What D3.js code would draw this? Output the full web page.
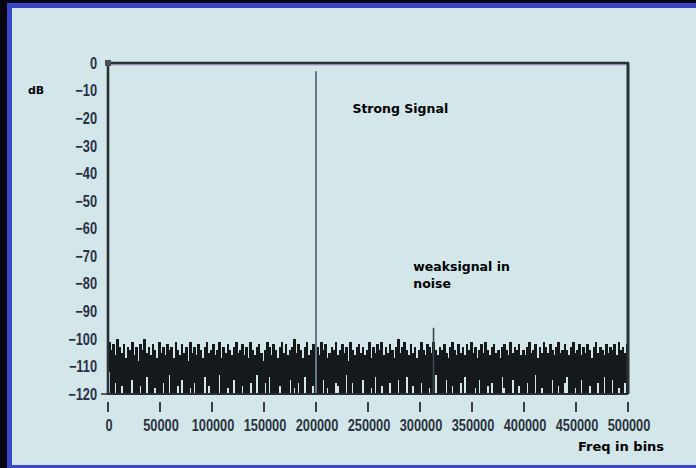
<!DOCTYPE html>
<html><head><meta charset="utf-8">
<script src="https://cdn.jsdelivr.net/npm/d3@7"></script>
<style>html,body{margin:0;padding:0;background:#070714;}svg{display:block;}</style>
</head><body>
<svg id="c" width="696" height="468"></svg>
<script>
// ---- data ----
const xTicks = [0,50000,100000,150000,200000,250000,300000,350000,400000,450000,500000];
const yTicks = [0,-10,-20,-30,-40,-50,-60,-70,-80,-90,-100,-110,-120];
const binHz = 2000;
const noisePeak = [
-101,-104,-102,-106,-100,-103,-105,-102,-107,-103,
-104,-101,-106,-103,-108,-102,-104,-100,-105,-103,
-106,-102,-104,-107,-101,-105,-103,-106,-102,-104,
-103,-107,-101,-104,-106,-102,-105,-103,-108,-101,
-105,-103,-106,-102,-104,-107,-103,-101,-105,-104,
-102,-106,-104,-101,-107,-103,-105,-102,-104,-106,
-103,-101,-105,-104,-102,-106,-103,-107,-101,-104,
-106,-103,-102,-105,-108,-104,-101,-103,-106,-102,
-104,-107,-103,-101,-105,-102,-106,-104,-103,-100,
-105,-102,-104,-107,-103,-101,-106,-104,-102,-105,
-103,-106,-101,-104,-102,-107,-105,-103,-104,-101,
-106,-104,-102,-105,-103,-108,-101,-104,-106,-103,
-102,-105,-103,-106,-104,-101,-107,-103,-105,-102,
-104,-101,-106,-103,-105,-102,-104,-107,-103,-100,
-105,-103,-101,-104,-106,-102,-105,-103,-107,-104,
-101,-104,-106,-102,-103,-105,-101,-104,-106,-103,
-104,-102,-105,-107,-103,-101,-104,-106,-102,-105,
-103,-106,-102,-104,-101,-105,-103,-107,-104,-102,
-105,-101,-104,-106,-103,-102,-105,-104,-107,-103,
-102,-104,-106,-101,-105,-103,-104,-102,-106,-104,
-106,-103,-101,-105,-104,-102,-107,-103,-105,-101,
-103,-105,-102,-104,-106,-103,-101,-105,-104,-102,
-104,-106,-103,-101,-105,-104,-102,-106,-103,-105,
-102,-104,-107,-103,-101,-105,-103,-104,-106,-102,
-105,-103,-104,-102,-106,-101,-104,-103,-105,-102];
const noiseTrough = [
-112,-120,-120,-116,-120,-120,-117,-120,-120,-120,
-120,-115,-120,-120,-120,-117,-120,-120,-114,-120,
-120,-120,-118,-120,-120,-120,-116,-120,-120,-113,
-120,-120,-120,-117,-120,-115,-120,-120,-120,-118,
-120,-116,-120,-120,-120,-120,-114,-120,-117,-120,
-120,-120,-120,-113,-120,-120,-120,-118,-120,-120,
-115,-120,-120,-120,-117,-120,-120,-120,-116,-120,
-120,-113,-120,-120,-120,-116,-120,-114,-120,-120,
-120,-120,-117,-120,-120,-120,-120,-115,-120,-118,
-120,-116,-120,-120,-114,-120,-120,-120,-117,-120,
-120,-120,-120,-115,-120,-118,-120,-120,-120,-116,
-117,-120,-120,-120,-113,-120,-120,-116,-120,-120,
-120,-120,-115,-120,-120,-120,-118,-120,-114,-120,
-120,-117,-120,-120,-120,-116,-120,-120,-120,-115,
-120,-120,-120,-114,-120,-120,-117,-120,-120,-120,
-116,-120,-120,-120,-118,-120,-120,-113,-120,-120,
-120,-120,-115,-120,-120,-117,-120,-120,-120,-116,
-120,-114,-120,-120,-120,-120,-118,-120,-115,-120,
-120,-120,-117,-120,-116,-120,-120,-120,-120,-114,
-118,-120,-120,-120,-115,-120,-120,-117,-120,-120,
-120,-116,-120,-120,-120,-113,-120,-120,-118,-120,
-120,-120,-120,-115,-120,-120,-117,-120,-120,-116,
-114,-120,-120,-120,-118,-120,-120,-115,-120,-120,
-120,-117,-120,-120,-120,-116,-120,-120,-114,-120,
-120,-120,-115,-120,-120,-118,-120,-120,-116,-120];
const signals = [
  {name:"strong", freq:200000, db:-3},
  {name:"weak", freq:313000, db:-96}
];
const annotations = [
  {lines:["Strong Signal"], freq:235000, db:-18},
  {lines:["weaksignal in","noise"], freq:293500, db:-75.5}
];

// ---- drawing ----
const svg = d3.select("#c");
const W = 696, H = 468;
svg.append("rect").attr("x",0).attr("y",0).attr("width",W).attr("height",H).attr("fill","#070714");
svg.append("rect").attr("x",7).attr("y",3).attr("width",W-7).attr("height",H-3).attr("fill","#3b46c6");
svg.append("rect").attr("x",12).attr("y",8).attr("width",W-12).attr("height",457).attr("fill","#d3e6ea");

const x = d3.scaleLinear().domain([0,500000]).range([108,628]);
const y = d3.scaleLinear().domain([-120,0]).range([394,63]);
const numFont = "'Liberation Sans',Arial,sans-serif";
const fmtY = d => d===0 ? "0" : "\u2212" + Math.abs(d);
const sx = 0.8;

// noise
const bw = x(binHz) - x(0);
svg.append("g").attr("shape-rendering","crispEdges")
  .selectAll("rect").data(noisePeak).join("rect")
  .attr("x",(d,i)=>x(i*binHz)).attr("width",bw+0.6)
  .attr("y",d=>y(d)).attr("height",(d,i)=>y(noiseTrough[i])-y(d))
  .attr("fill","#15191b");

// signals
svg.selectAll("line.s").data(signals).join("line")
  .attr("x1",d=>x(d.freq)).attr("x2",d=>x(d.freq))
  .attr("y1",y(-120)).attr("y2",d=>y(d.db))
  .attr("stroke",d=>d.name==="strong"?"#67788a":"#3a4650")
  .attr("stroke-width",d=>d.name==="strong"?2:1.6);

// frame
const axisCol = "#2b3036";
svg.append("line").attr("x1",x(0)).attr("x2",x(500000)+1).attr("y1",y(0)+1.8).attr("y2",y(0)+1.8)
  .attr("stroke","#b9a6d2").attr("stroke-width",1.5);
svg.append("line").attr("x1",x(0)).attr("x2",x(500000)+1).attr("y1",y(0)).attr("y2",y(0))
  .attr("stroke",axisCol).attr("stroke-width",2.6);
svg.append("line").attr("x1",x(500000)).attr("x2",x(500000)).attr("y1",y(0)).attr("y2",y(-120))
  .attr("stroke",axisCol).attr("stroke-width",3);
svg.append("line").attr("x1",x(0)).attr("x2",x(500000)).attr("y1",y(-120)).attr("y2",y(-120))
  .attr("stroke",axisCol).attr("stroke-width",2);
svg.append("line").attr("x1",x(0)).attr("x2",x(0)).attr("y1",y(0)-2).attr("y2",y(-120)+1)
  .attr("stroke",axisCol).attr("stroke-width",2.6);
svg.append("rect").attr("x",x(0)-3).attr("y",y(0)-3).attr("width",6).attr("height",6).attr("fill","#4a5058");
svg.append("line").attr("x1",x(0)-7).attr("x2",x(0)).attr("y1",y(-120)).attr("y2",y(-120))
  .attr("stroke",axisCol).attr("stroke-width",1.5);

// y tick labels (condensed bold)
svg.selectAll("text.yt").data(yTicks).join("text")
  .attr("transform",d=>`translate(97,${y(d)}) scale(${sx},1)`)
  .attr("dy","0.36em").attr("text-anchor","end")
  .style("font-family",numFont).style("font-weight","bold").style("font-size","16px")
  .attr("fill","#2a3146").text(fmtY);

// x ticks
svg.selectAll("line.xt").data(xTicks).join("line")
  .attr("x1",d=>x(d)).attr("x2",d=>x(d)).attr("y1",402).attr("y2",412)
  .attr("stroke","#3a4048").attr("stroke-width",2);
svg.selectAll("text.xt").data(xTicks).join("text")
  .attr("transform",d=>`translate(${x(d)+1},431) scale(${sx},1)`)
  .attr("text-anchor","middle")
  .style("font-family",numFont).style("font-weight","bold").style("font-size","16px")
  .attr("fill","#2c3440").text(d=>String(d));

// axis titles
const lblFont = "'DejaVu Sans',sans-serif";
svg.append("text").attr("x",28).attr("y",94).style("font-family",lblFont).style("font-weight","bold")
  .style("font-size","11px").attr("fill","#000").text("dB");
svg.append("text").attr("x",578).attr("y",451).style("font-family",lblFont).style("font-weight","bold")
  .style("font-size","13px").attr("fill","#000").text("Freq in bins");

// annotations
annotations.forEach(a=>{
  const t = svg.append("text").attr("x",x(a.freq)).attr("y",y(a.db))
    .style("font-family",lblFont).style("font-weight","bold").style("font-size","12.5px").attr("fill","#000");
  a.lines.forEach((l,i)=>t.append("tspan").attr("x",x(a.freq)).attr("dy",i?"1.3em":0).text(l));
});
</script>
</body></html>
